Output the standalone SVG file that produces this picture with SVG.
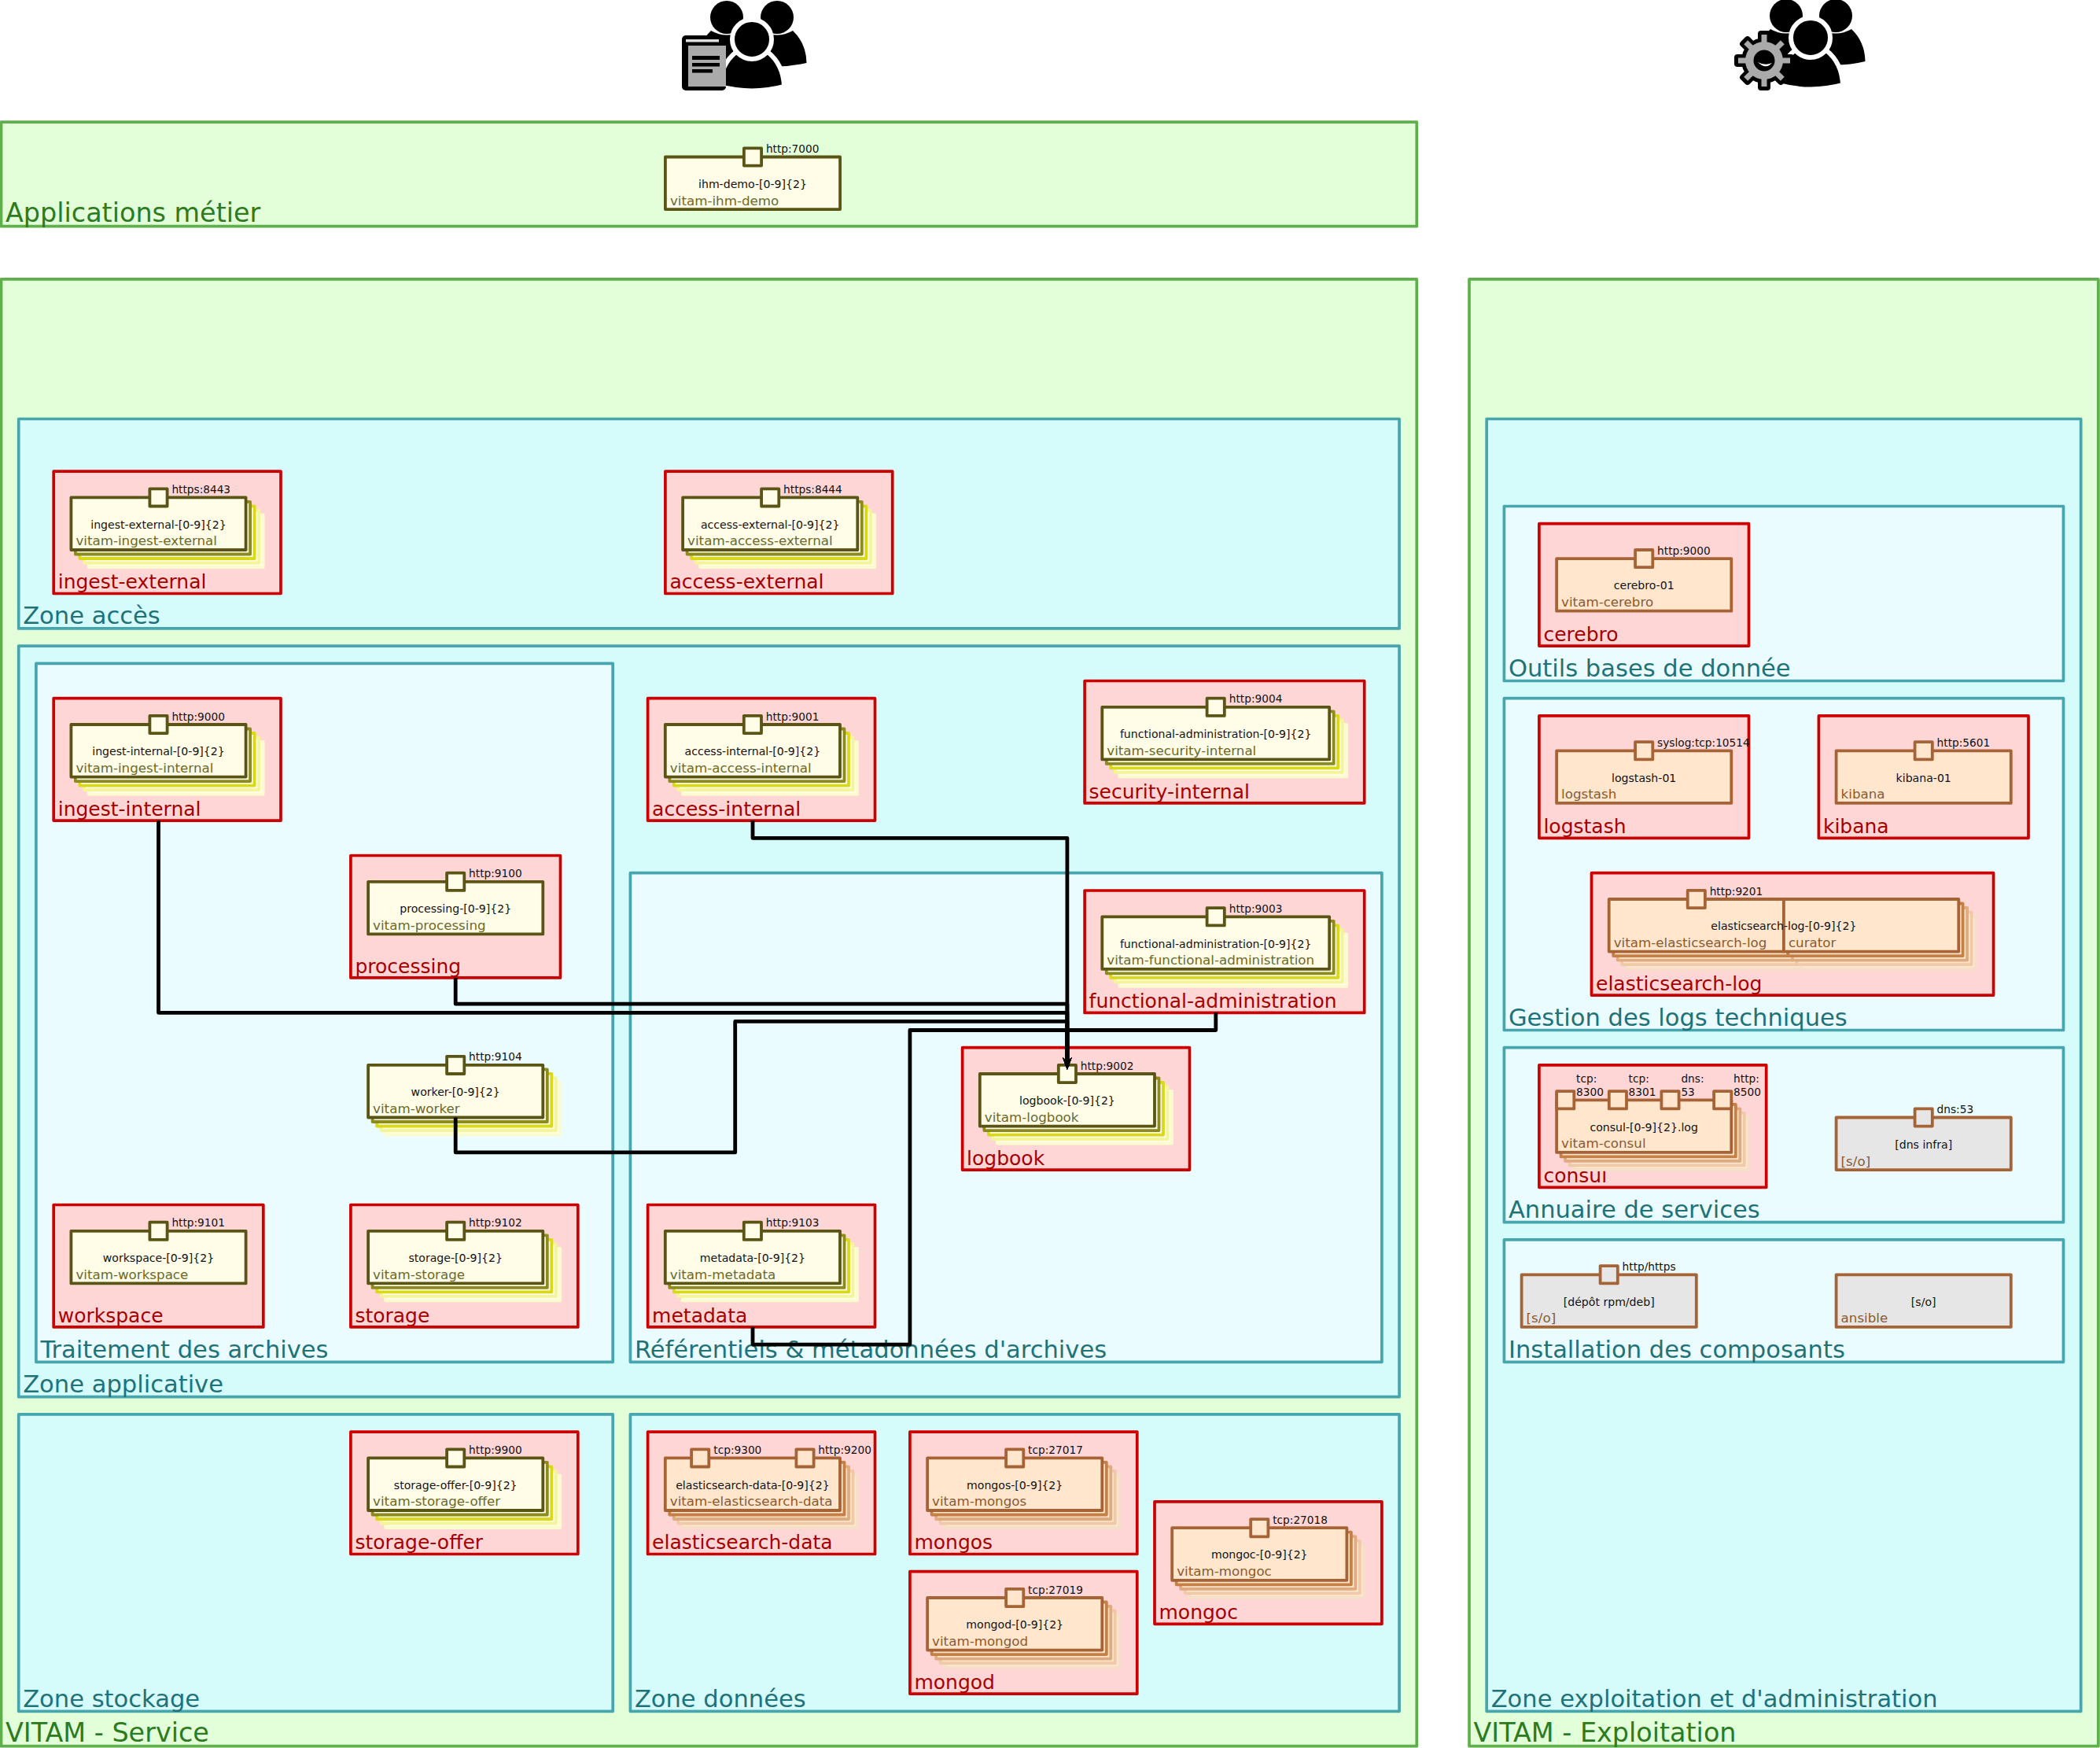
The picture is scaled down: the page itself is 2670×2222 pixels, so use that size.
<svg xmlns="http://www.w3.org/2000/svg" xmlns:xlink="http://www.w3.org/1999/xlink" width="2670" height="2222" viewBox="0 0 2670 2222">
<style>
text{font-family:"DejaVu Sans","Liberation Sans",sans-serif}
rect{stroke-linejoin:round}
.panel{fill:#e2ffd9;stroke:#5fb04c;stroke-width:3.7}
.zone{fill:#d6fbfb;stroke:#46a5ad;stroke-width:3.7}
.sub{fill:#eafcff;stroke:#46a5ad;stroke-width:3.7}
.host{fill:#ffd6d6;stroke:#cc0000;stroke-width:3.7}
.o{fill:#fffce8;stroke:#5a5514;stroke-width:3.8}
.p{fill:#ffe6cc;stroke:#a66336;stroke-width:3.8}
.g{fill:#e6e6e6;stroke:#a66336;stroke-width:3.8}
.o1{fill:#fffce8;stroke:#8c8c1e;stroke-width:3.8}
.o2{fill:#fffce8;stroke:#d9d91a;stroke-width:3.8}
.o3{fill:#fffce8;stroke:#f4f499;stroke-width:3.8}
.o4{fill:#fffce8;stroke:#fbfbd0;stroke-width:3.8}
.p1{fill:#ffe6cc;stroke:#c67f45;stroke-width:3.8}
.p2{fill:#ffe6cc;stroke:#e0ab80;stroke-width:3.8}
.p3{fill:#ffe6cc;stroke:#efc9a8;stroke-width:3.8}
.p4{fill:#ffe6cc;stroke:#f6dfc8;stroke-width:3.8}
.tp{font-size:33.4px;fill:#2d7a1f}
.tz{font-size:30.55px;fill:#1f7378}
.th{font-size:25px;fill:#a50000}
.tc{font-size:14.1px;fill:#111;text-anchor:middle}
.tr{font-size:13.7px;fill:#111}
.to{font-size:16.7px;fill:#6a6a2a}
.ta{font-size:16.7px;fill:#8a5a30}
.link{fill:none;stroke:#000;stroke-width:4.8;stroke-linejoin:round;marker-end:url(#arrow)}
</style>
<defs>
<marker id="arrow" markerUnits="userSpaceOnUse" markerWidth="18" markerHeight="16" viewBox="0 0 18 16" refX="11" refY="8" orient="auto">
<path d="M0 2L16 8L0 14L5 8Z" fill="#000"/>
</marker>
<g id="sO10"><rect class="o4" x="22" y="22" width="222.2" height="66.6"/><rect class="o3" x="16.5" y="16.5" width="222.2" height="66.6"/><rect class="o2" x="11" y="11" width="222.2" height="66.6"/><rect class="o1" x="5.5" y="5.5" width="222.2" height="66.6"/></g>
<g id="sO13"><rect class="o4" x="22" y="22" width="288.9" height="66.6"/><rect class="o3" x="16.5" y="16.5" width="288.9" height="66.6"/><rect class="o2" x="11" y="11" width="288.9" height="66.6"/><rect class="o1" x="5.5" y="5.5" width="288.9" height="66.6"/></g>
<g id="sP10"><rect class="p4" x="22" y="22" width="222.2" height="66.6"/><rect class="p3" x="16.5" y="16.5" width="222.2" height="66.6"/><rect class="p2" x="11" y="11" width="222.2" height="66.6"/><rect class="p1" x="5.5" y="5.5" width="222.2" height="66.6"/></g>
<g id="person"><circle cx="0" cy="22" r="21"/><path d="M-20 39Q0 50 20 39Q37 55 37.5 80Q0 89 -37.5 80Q-37 55 -20 39Z"/></g>
<g id="personFront"><path d="M-20 66Q0 77 20 66Q40 82 41 110Q0 121 -41 110Q-40 82 -20 66Z" stroke="#fff" stroke-width="6"/><circle cx="0" cy="50" r="25" stroke="#fff" stroke-width="6"/></g>
<rect id="toothB" x="-8" y="-38" width="16" height="22" rx="4" fill="#000"/>
<rect id="toothG" x="-3.5" y="-33" width="7" height="14" fill="#aaa"/>
</defs>

<g id="users-metier">
<use href="#person" x="924" y="0"/><use href="#person" x="988" y="0"/><use href="#personFront" x="956" y="0"/>
<rect x="867" y="45" width="56" height="70" rx="5" fill="#000"/>
<rect x="872" y="50" width="42" height="3.5" fill="#ddd"/>
<rect x="875" y="58" width="48" height="52" fill="#aaa"/>
<rect x="880" y="71" width="35" height="5" fill="#000"/><rect x="880" y="80" width="35" height="4.5" fill="#000"/><rect x="880" y="88" width="26" height="4.5" fill="#000"/>
</g>
<g id="users-admin">
<use href="#person" x="2271" y="-2"/><use href="#person" x="2334" y="-2"/><use href="#personFront" x="2302" y="-2"/>
<g transform="translate(2243,77)">
<circle r="29" fill="#000"/>
<use href="#toothB"/><use href="#toothB" transform="rotate(45)"/><use href="#toothB" transform="rotate(90)"/><use href="#toothB" transform="rotate(135)"/><use href="#toothB" transform="rotate(180)"/><use href="#toothB" transform="rotate(225)"/><use href="#toothB" transform="rotate(270)"/><use href="#toothB" transform="rotate(315)"/>
<circle r="24" fill="#aaa"/>
<use href="#toothG"/><use href="#toothG" transform="rotate(45)"/><use href="#toothG" transform="rotate(90)"/><use href="#toothG" transform="rotate(135)"/><use href="#toothG" transform="rotate(180)"/><use href="#toothG" transform="rotate(225)"/><use href="#toothG" transform="rotate(270)"/><use href="#toothG" transform="rotate(315)"/>
<circle r="13.5" fill="#000"/>
<path d="M-8 2Q1 7 10 3Q2 12 -8 2Z" fill="#fff"/>
</g>
</g>

<g id="panel-applications"><rect class="panel" x="1.5" y="155.1" width="1799.8" height="132.6"/><text class="tp" x="7" y="282">Applications métier</text></g>
<g id="panel-service"><rect class="panel" x="1.5" y="354.9" width="1799.8" height="1864.8"/><text class="tp" x="7" y="2214">VITAM - Service</text></g>
<g id="panel-exploitation"><rect class="panel" x="1868" y="354.9" width="799.9" height="1864.8"/><text class="tp" x="1873.5" y="2214">VITAM - Exploitation</text></g>

<g id="zone-acces"><rect class="zone" x="23.7" y="532.5" width="1755.4" height="266.4"/><text class="tz" x="29.2" y="792.5">Zone accès</text></g>
<g id="zone-applicative"><rect class="zone" x="23.7" y="821.1" width="1755.4" height="954.6"/><text class="tz" x="29.2" y="1770">Zone applicative</text></g>
<g id="zone-traitement"><rect class="sub" x="45.9" y="843.3" width="733.3" height="888"/><text class="tz" x="51.4" y="1725.5">Traitement des archives</text></g>
<g id="zone-referentiels"><rect class="sub" x="801.4" y="1109.7" width="955.5" height="621.6"/><text class="tz" x="806.9" y="1725.5">Référentiels &amp; métadonnées d'archives</text></g>
<g id="zone-stockage"><rect class="zone" x="23.7" y="1797.9" width="755.5" height="377.4"/><text class="tz" x="29.2" y="2169.5">Zone stockage</text></g>
<g id="zone-donnees"><rect class="zone" x="801.4" y="1797.9" width="977.7" height="377.4"/><text class="tz" x="806.9" y="2169.5">Zone données</text></g>
<g id="zone-exploitation"><rect class="zone" x="1890.2" y="532.5" width="755.5" height="1642.8"/><text class="tz" x="1895.7" y="2169.5">Zone exploitation et d'administration</text></g>
<g id="zone-outils"><rect class="sub" x="1912.4" y="643.5" width="711.1" height="222"/><text class="tz" x="1917.9" y="859.5">Outils bases de donnée</text></g>
<g id="zone-logs"><rect class="sub" x="1912.4" y="887.7" width="711.1" height="421.8"/><text class="tz" x="1917.9" y="1303.5">Gestion des logs techniques</text></g>
<g id="zone-annuaire"><rect class="sub" x="1912.4" y="1331.7" width="711.1" height="222"/><text class="tz" x="1917.9" y="1547.5">Annuaire de services</text></g>
<g id="zone-installation"><rect class="sub" x="1912.4" y="1575.9" width="711.1" height="155.4"/><text class="tz" x="1917.9" y="1725.5">Installation des composants</text></g>

<g id="ihm-demo" transform="translate(845.9,199.5)"><rect class="o" width="222.2" height="66.6"/><rect class="o" x="100" y="-11.1" width="22.2" height="22.2"/><text class="tr" x="128" y="-5.5">http:7000</text><text class="tc" x="111.1" y="39.3">ihm-demo-[0-9]{2}</text><text class="to" x="6" y="61">vitam-ihm-demo</text></g>

<g id="ingest-external" transform="translate(68.2,599.1)"><rect class="host" width="288.8" height="155.4"/><text class="th" x="5.5" y="149">ingest-external</text><g transform="translate(22.2,33.3)"><use href="#sO10"/><rect class="o" width="222.2" height="66.6"/><rect class="o" x="100" y="-11.1" width="22.2" height="22.2"/><text class="tr" x="128" y="-5.5">https:8443</text><text class="tc" x="111.1" y="39.3">ingest-external-[0-9]{2}</text><text class="to" x="6" y="61">vitam-ingest-external</text></g></g>

<g id="access-external" transform="translate(845.9,599.1)"><rect class="host" width="288.8" height="155.4"/><text class="th" x="5.5" y="149">access-external</text><g transform="translate(22.2,33.3)"><use href="#sO10"/><rect class="o" width="222.2" height="66.6"/><rect class="o" x="100" y="-11.1" width="22.2" height="22.2"/><text class="tr" x="128" y="-5.5">https:8444</text><text class="tc" x="111.1" y="39.3">access-external-[0-9]{2}</text><text class="to" x="6" y="61">vitam-access-external</text></g></g>

<g id="ingest-internal" transform="translate(68.2,887.7)"><rect class="host" width="288.8" height="155.4"/><text class="th" x="5.5" y="149">ingest-internal</text><g transform="translate(22.2,33.3)"><use href="#sO10"/><rect class="o" width="222.2" height="66.6"/><rect class="o" x="100" y="-11.1" width="22.2" height="22.2"/><text class="tr" x="128" y="-5.5">http:9000</text><text class="tc" x="111.1" y="39.3">ingest-internal-[0-9]{2}</text><text class="to" x="6" y="61">vitam-ingest-internal</text></g></g>

<g id="access-internal" transform="translate(823.6,887.7)"><rect class="host" width="288.9" height="155.4"/><text class="th" x="5.5" y="149">access-internal</text><g transform="translate(22.2,33.3)"><use href="#sO10"/><rect class="o" width="222.2" height="66.6"/><rect class="o" x="100" y="-11.1" width="22.2" height="22.2"/><text class="tr" x="128" y="-5.5">http:9001</text><text class="tc" x="111.1" y="39.3">access-internal-[0-9]{2}</text><text class="to" x="6" y="61">vitam-access-internal</text></g></g>

<g id="security-internal" transform="translate(1379.1,865.5)"><rect class="host" width="355.6" height="155.4"/><text class="th" x="5.5" y="149">security-internal</text><g transform="translate(22.2,33.3)"><use href="#sO13"/><rect class="o" width="288.9" height="66.6"/><rect class="o" x="133.3" y="-11.1" width="22.2" height="22.2"/><text class="tr" x="161.5" y="-5.5">http:9004</text><text class="tc" x="144.4" y="39.3">functional-administration-[0-9]{2}</text><text class="to" x="6" y="61">vitam-security-internal</text></g></g>

<g id="processing" transform="translate(445.9,1087.5)"><rect class="host" width="266.6" height="155.4"/><text class="th" x="5.5" y="149">processing</text><g transform="translate(22.2,33.3)"><rect class="o" width="222.2" height="66.6"/><rect class="o" x="100" y="-11.1" width="22.2" height="22.2"/><text class="tr" x="128" y="-5.5">http:9100</text><text class="tc" x="111.1" y="39.3">processing-[0-9]{2}</text><text class="to" x="6" y="61">vitam-processing</text></g></g>

<g id="functional-administration" transform="translate(1379.1,1132)"><rect class="host" width="355.6" height="155.4"/><text class="th" x="5.5" y="149">functional-administration</text><g transform="translate(22.2,33.3)"><use href="#sO13"/><rect class="o" width="288.9" height="66.6"/><rect class="o" x="133.3" y="-11.1" width="22.2" height="22.2"/><text class="tr" x="161.5" y="-5.5">http:9003</text><text class="tc" x="144.4" y="39.3">functional-administration-[0-9]{2}</text><text class="to" x="6" y="61">vitam-functional-administration</text></g></g>

<g id="logbook" transform="translate(1223.6,1331.7)"><rect class="host" width="288.9" height="155.4"/><text class="th" x="5.5" y="149">logbook</text><g transform="translate(22.2,33.3)"><use href="#sO10"/><rect class="o" width="222.2" height="66.6"/><rect class="o" x="100" y="-11.1" width="22.2" height="22.2"/><text class="tr" x="128" y="-5.5">http:9002</text><text class="tc" x="111.1" y="39.3">logbook-[0-9]{2}</text><text class="to" x="6" y="61">vitam-logbook</text></g></g>

<g id="worker" transform="translate(468.1,1353.9)"><use href="#sO10"/><rect class="o" width="222.2" height="66.6"/><rect class="o" x="100" y="-11.1" width="22.2" height="22.2"/><text class="tr" x="128" y="-5.5">http:9104</text><text class="tc" x="111.1" y="39.3">worker-[0-9]{2}</text><text class="to" x="6" y="61">vitam-worker</text></g>

<g id="workspace" transform="translate(68.2,1531.5)"><rect class="host" width="266.6" height="155.4"/><text class="th" x="5.5" y="149">workspace</text><g transform="translate(22.2,33.3)"><rect class="o" width="222.2" height="66.6"/><rect class="o" x="100" y="-11.1" width="22.2" height="22.2"/><text class="tr" x="128" y="-5.5">http:9101</text><text class="tc" x="111.1" y="39.3">workspace-[0-9]{2}</text><text class="to" x="6" y="61">vitam-workspace</text></g></g>

<g id="storage" transform="translate(445.9,1531.5)"><rect class="host" width="288.9" height="155.4"/><text class="th" x="5.5" y="149">storage</text><g transform="translate(22.2,33.3)"><use href="#sO10"/><rect class="o" width="222.2" height="66.6"/><rect class="o" x="100" y="-11.1" width="22.2" height="22.2"/><text class="tr" x="128" y="-5.5">http:9102</text><text class="tc" x="111.1" y="39.3">storage-[0-9]{2}</text><text class="to" x="6" y="61">vitam-storage</text></g></g>

<g id="metadata" transform="translate(823.6,1531.5)"><rect class="host" width="288.9" height="155.4"/><text class="th" x="5.5" y="149">metadata</text><g transform="translate(22.2,33.3)"><use href="#sO10"/><rect class="o" width="222.2" height="66.6"/><rect class="o" x="100" y="-11.1" width="22.2" height="22.2"/><text class="tr" x="128" y="-5.5">http:9103</text><text class="tc" x="111.1" y="39.3">metadata-[0-9]{2}</text><text class="to" x="6" y="61">vitam-metadata</text></g></g>

<g id="storage-offer" transform="translate(445.9,1820.1)"><rect class="host" width="288.9" height="155.4"/><text class="th" x="5.5" y="149">storage-offer</text><g transform="translate(22.2,33.3)"><use href="#sO10"/><rect class="o" width="222.2" height="66.6"/><rect class="o" x="100" y="-11.1" width="22.2" height="22.2"/><text class="tr" x="128" y="-5.5">http:9900</text><text class="tc" x="111.1" y="39.3">storage-offer-[0-9]{2}</text><text class="to" x="6" y="61">vitam-storage-offer</text></g></g>

<g id="elasticsearch-data" transform="translate(823.6,1820.1)"><rect class="host" width="288.9" height="155.4"/><text class="th" x="5.5" y="149">elasticsearch-data</text><g transform="translate(22.2,33.3)"><use href="#sP10"/><rect class="p" width="222.2" height="66.6"/><rect class="p" x="33.3" y="-11.1" width="22.2" height="22.2"/><rect class="p" x="166.6" y="-11.1" width="22.2" height="22.2"/><text class="tr" x="61.5" y="-5.5">tcp:9300</text><text class="tr" x="194.5" y="-5.5">http:9200</text><text class="tc" x="111.1" y="39.3">elasticsearch-data-[0-9]{2}</text><text class="ta" x="6" y="61">vitam-elasticsearch-data</text></g></g>

<g id="mongos" transform="translate(1156.9,1820.1)"><rect class="host" width="288.9" height="155.4"/><text class="th" x="5.5" y="149">mongos</text><g transform="translate(22.2,33.3)"><use href="#sP10"/><rect class="p" width="222.2" height="66.6"/><rect class="p" x="100" y="-11.1" width="22.2" height="22.2"/><text class="tr" x="128" y="-5.5">tcp:27017</text><text class="tc" x="111.1" y="39.3">mongos-[0-9]{2}</text><text class="ta" x="6" y="61">vitam-mongos</text></g></g>

<g id="mongoc" transform="translate(1468,1908.9)"><rect class="host" width="288.9" height="155.4"/><text class="th" x="5.5" y="149">mongoc</text><g transform="translate(22.2,33.3)"><use href="#sP10"/><rect class="p" width="222.2" height="66.6"/><rect class="p" x="100" y="-11.1" width="22.2" height="22.2"/><text class="tr" x="128" y="-5.5">tcp:27018</text><text class="tc" x="111.1" y="39.3">mongoc-[0-9]{2}</text><text class="ta" x="6" y="61">vitam-mongoc</text></g></g>

<g id="mongod" transform="translate(1156.9,1997.7)"><rect class="host" width="288.9" height="155.4"/><text class="th" x="5.5" y="149">mongod</text><g transform="translate(22.2,33.3)"><use href="#sP10"/><rect class="p" width="222.2" height="66.6"/><rect class="p" x="100" y="-11.1" width="22.2" height="22.2"/><text class="tr" x="128" y="-5.5">tcp:27019</text><text class="tc" x="111.1" y="39.3">mongod-[0-9]{2}</text><text class="ta" x="6" y="61">vitam-mongod</text></g></g>

<g id="cerebro" transform="translate(1956.9,665.7)"><rect class="host" width="266.6" height="155.4"/><text class="th" x="5.5" y="149">cerebro</text><g transform="translate(22.2,44.4)"><rect class="p" width="222.2" height="66.6"/><rect class="p" x="100" y="-11.1" width="22.2" height="22.2"/><text class="tr" x="128" y="-5.5">http:9000</text><text class="tc" x="111.1" y="39.3">cerebro-01</text><text class="ta" x="6" y="61">vitam-cerebro</text></g></g>

<g id="logstash" transform="translate(1956.9,909.9)"><rect class="host" width="266.6" height="155.4"/><text class="th" x="5.5" y="149">logstash</text><g transform="translate(22.2,44.4)"><rect class="p" width="222.2" height="66.6"/><rect class="p" x="100" y="-11.1" width="22.2" height="22.2"/><text class="tr" x="128" y="-5.5">syslog:tcp:10514</text><text class="tc" x="111.1" y="39.3">logstash-01</text><text class="ta" x="6" y="61">logstash</text></g></g>

<g id="kibana" transform="translate(2312.4,909.9)"><rect class="host" width="266.6" height="155.4"/><text class="th" x="5.5" y="149">kibana</text><g transform="translate(22.2,44.4)"><rect class="p" width="222.2" height="66.6"/><rect class="p" x="100" y="-11.1" width="22.2" height="22.2"/><text class="tr" x="128" y="-5.5">http:5601</text><text class="tc" x="111.1" y="39.3">kibana-01</text><text class="ta" x="6" y="61">kibana</text></g></g>

<g id="elasticsearch-log" transform="translate(2023.5,1109.7)"><rect class="host" width="511.1" height="155.4"/><text class="th" x="5.5" y="149">elasticsearch-log</text><g transform="translate(22.2,33.3)"><use href="#sP10"/><use href="#sP10" x="222.2"/><rect class="p" width="222.2" height="66.6"/><rect class="p" x="222.2" width="222.4" height="66.6"/><rect class="p" x="100" y="-11.1" width="22.2" height="22.2"/><text class="tr" x="128" y="-5.5">http:9201</text><text class="tc" x="222.2" y="39.3">elasticsearch-log-[0-9]{2}</text><text class="ta" x="6" y="61">vitam-elasticsearch-log</text><text class="ta" x="228.2" y="61">curator</text></g></g>

<g id="consul" transform="translate(1956.9,1353.9)"><rect class="host" width="288.8" height="155.4"/><text class="th" x="5.5" y="149">consul</text><g transform="translate(22.2,44.4)"><use href="#sP10"/><rect class="p" width="222.2" height="66.6"/><rect class="p" y="-11.1" width="22.2" height="22.2"/><rect class="p" x="66.7" y="-11.1" width="22.2" height="22.2"/><rect class="p" x="133.3" y="-11.1" width="22.2" height="22.2"/><rect class="p" x="200" y="-11.1" width="22.2" height="22.2"/><text class="tr" x="25" y="-22">tcp:</text><text class="tr" x="25" y="-5">8300</text><text class="tr" x="91.5" y="-22">tcp:</text><text class="tr" x="91.5" y="-5">8301</text><text class="tr" x="158.3" y="-22">dns:</text><text class="tr" x="158.3" y="-5">53</text><text class="tr" x="225" y="-22">http:</text><text class="tr" x="225" y="-5">8500</text><text class="tc" x="111.1" y="39.3">consul-[0-9]{2}.log</text><text class="ta" x="6" y="61">vitam-consul</text></g></g>

<g id="dns-infra" transform="translate(2334.6,1420.5)"><rect class="g" width="222.2" height="66.6"/><rect class="g" x="100" y="-11.1" width="22.2" height="22.2"/><text class="tr" x="128" y="-5.5">dns:53</text><text class="tc" x="111.1" y="39.3">[dns infra]</text><text class="ta" x="6" y="61">[s/o]</text></g>

<g id="depot-rpm-deb" transform="translate(1934.6,1620.3)"><rect class="g" width="222.2" height="66.6"/><rect class="g" x="100" y="-11.1" width="22.2" height="22.2"/><text class="tr" x="128" y="-5.5">http/https</text><text class="tc" x="111.1" y="39.3">[dépôt rpm/deb]</text><text class="ta" x="6" y="61">[s/o]</text></g>

<g id="ansible" transform="translate(2334.6,1620.3)"><rect class="g" width="222.2" height="66.6"/><text class="tc" x="111.1" y="39.3">[s/o]</text><text class="ta" x="6" y="61">ansible</text></g>

<g id="connectors">
<path class="link" d="M957 1043V1065.3H1356.9V1355"/>
<path class="link" d="M579.2 1242.9V1276.2H1356.9V1355"/>
<path class="link" d="M201.5 1043.1V1287.3H1356.9V1355"/>
<path class="link" d="M579.2 1420.5V1464.9H934.7V1298.4H1356.9V1355"/>
<path class="link" d="M1545.8 1287.3V1309.5H1356.9V1355"/>
<path class="link" d="M957 1686.9V1709.1H1156.9V1309.5H1356.9V1355"/>
</g>
</svg>
